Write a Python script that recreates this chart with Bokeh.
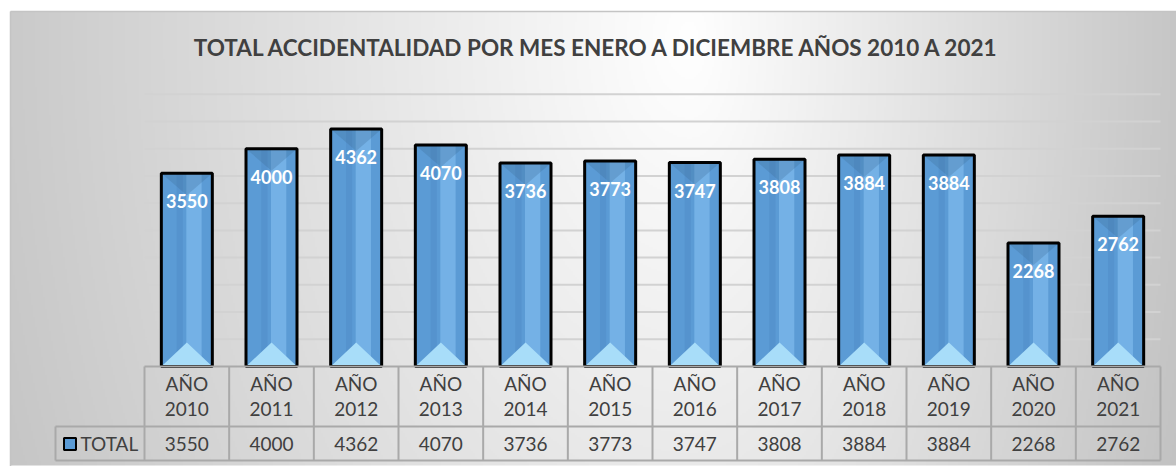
import numpy as np
from bokeh.plotting import figure
from bokeh.models import Range1d
from bokeh.core.properties import value
from bokeh.embed import file_html
from bokeh.resources import INLINE

# ---------------- data ----------------
title = "TOTAL ACCIDENTALIDAD POR MES ENERO A DICIEMBRE AÑOS  2010 A 2021"
categories = ["AÑO 2010", "AÑO 2011", "AÑO 2012", "AÑO 2013", "AÑO 2014", "AÑO 2015",
              "AÑO 2016", "AÑO 2017", "AÑO 2018", "AÑO 2019", "AÑO 2020", "AÑO 2021"]
series_name = "TOTAL"
values = [3550, 4000, 4362, 4070, 3736, 3773, 3747, 3808, 3884, 3884, 2268, 2762]
grid_values = [500, 1000, 1500, 2000, 2500, 3000, 3500, 4000, 4500, 5000]
axis_max = 5000

# ---------------- layout (page pixels; canvas starts at page 0,0) ----------------
OX, OY = 0, 0
W, H = 1176, 466
PLOT_L, PLOT_R = 144, 1160
BASE_Y = 366
TOP_Y = 93.8
n = len(categories)
cat_w = (PLOT_R - PLOT_L) / n
ky = (BASE_Y - TOP_Y) / axis_max


def dx(px):
    return (px - PLOT_L) / cat_w - 0.5


def dy(py):
    return (BASE_Y - py) / ky


FONT = value("Lato")
TXT = "#404040"
LINE = "#a9a9a9"

p = figure(width=W, height=H,
           x_range=Range1d(dx(OX), dx(OX + W)), y_range=Range1d(dy(OY + H), dy(OY)),
           output_backend="svg", toolbar_location=None, min_border=0,
           x_axis_location=None, y_axis_location=None,
           outline_line_color=None, background_fill_color="white",
           border_fill_color="white")
p.grid.visible = False

# ---------------- background gradient ----------------
gx0, gy0 = 10, 11
gw, gh = OX + W - gx0, OY + H - gy0
res = 2
nx, ny = gw // res, gh // res
xs_px = gx0 + (np.arange(nx) + 0.5) * res
ys_px = gy0 + (np.arange(ny) + 0.5) * res
X, Y = np.meshgrid(xs_px, ys_px)
cx, cy = 690, 40
rx = np.where(X < cx, 720.0, 480.0)
r = np.sqrt(((X - cx) / rx) ** 2 + ((Y - cy) / 1100.0) ** 2)
g = np.clip(255 - 56 * r, 0, 255).astype(np.uint8)
img = np.empty((ny, nx), dtype=np.uint32)
view = img.view(dtype=np.uint8).reshape((ny, nx, 4))
view[..., 0] = g
view[..., 1] = g
view[..., 2] = g
view[..., 3] = 255
img = np.ascontiguousarray(np.flipud(img))
p.image_rgba(image=[img], x=dx(gx0), y=dy(gy0 + ny * res),
             dw=dx(gx0 + nx * res) - dx(gx0), dh=dy(gy0) - dy(gy0 + ny * res))

# chart border
p.segment(x0=[dx(gx0), dx(gx0)], y0=[dy(gy0), dy(gy0)],
          x1=[dx(OX + W), dx(gx0)], y1=[dy(gy0), dy(OY + H)],
          line_color="#c4c4c4", line_width=1.5)

# ---------------- gridlines ----------------
p.segment(x0=-0.5, x1=n - 0.5, y0=grid_values, y1=grid_values,
          line_color="#d2d2d2", line_width=2)

# ---------------- bars ----------------
xs = np.arange(n)
vals = np.array(values, dtype=float)
bw = 51 / cat_w
p.vbar(x=xs, top=vals, bottom=0, width=bw, fill_color="#5b9bd5", line_color=None)
p.vbar(x=xs - bw * 0.14, top=vals, bottom=0, width=bw * 0.12,
       fill_color="#4d88c2", fill_alpha=0.4, line_color=None)
p.vbar(x=xs + bw * 0.14, top=vals, bottom=0, width=bw * 0.3,
       fill_color="#7fbbec", fill_alpha=0.7, line_color=None)
# top bevel
p.patches(xs=[[x - bw / 2, x + bw / 2, x] for x in xs],
          ys=[[v, v, v - 22 / ky] for v in vals],
          fill_color="#3d6a96", fill_alpha=0.28, line_color=None)
# bottom light triangle
p.patches(xs=[[x - bw / 2, x + bw / 2, x] for x in xs],
          ys=[[0, 0, 24 / ky] for _ in vals],
          fill_color="#a8ddf9", line_color=None)
# outline
p.vbar(x=xs, top=vals, bottom=0, width=bw, fill_color=None,
       line_color="black", line_width=3)
# value labels
p.text(x=xs, y=vals - 28 / ky, text=[str(v) for v in values],
       text_align="center", text_baseline="middle", text_color="white",
       text_font=FONT, text_font_style="bold", text_font_size="18px")

# ---------------- title ----------------
p.text(x=[dx(600)], y=[dy(47)], text=[title], text_align="center",
       text_baseline="middle", text_color=TXT, text_font=FONT,
       text_font_style="bold", text_font_size="22.5px")

# ---------------- data table ----------------
row1_top, row2_top, row2_bot = BASE_Y, 426, 460
left_x = 55
p.segment(x0=[-0.5, dx(left_x), dx(left_x)], x1=[n - 0.5, n - 0.5, n - 0.5],
          y0=[dy(row1_top), dy(row2_top), dy(row2_bot)],
          y1=[dy(row1_top), dy(row2_top), dy(row2_bot)],
          line_color=LINE, line_width=2)
bounds = np.arange(n + 1) - 0.5
p.segment(x0=bounds, x1=bounds, y0=dy(row1_top), y1=dy(row2_bot),
          line_color=LINE, line_width=2)
p.segment(x0=[dx(left_x)], x1=[dx(left_x)], y0=[dy(row2_top)], y1=[dy(row2_bot)],
          line_color=LINE, line_width=2)

line1 = [c.split(" ")[0] for c in categories]
line2 = [c.split(" ")[1] for c in categories]
p.text(x=xs, y=dy(383), text=line1, text_align="center", text_baseline="middle",
       text_color=TXT, text_font=FONT, text_font_size="19px")
p.text(x=xs, y=dy(408), text=line2, text_align="center", text_baseline="middle",
       text_color=TXT, text_font=FONT, text_font_size="19px")
p.text(x=xs, y=dy(443), text=[str(v) for v in values], text_align="center",
       text_baseline="middle", text_color=TXT, text_font=FONT, text_font_size="19px")

# legend key + series name
p.rect(x=[dx(69.5)], y=[dy(443.5)], width=12, height=12, width_units="screen",
       height_units="screen", fill_color="#5b9bd5", line_color="black", line_width=2)
p.text(x=[dx(80)], y=[dy(443)], text=[series_name], text_align="left",
       text_baseline="middle", text_color=TXT, text_font=FONT, text_font_size="19px")

open("out.html", "w").write(file_html(p, INLINE))
